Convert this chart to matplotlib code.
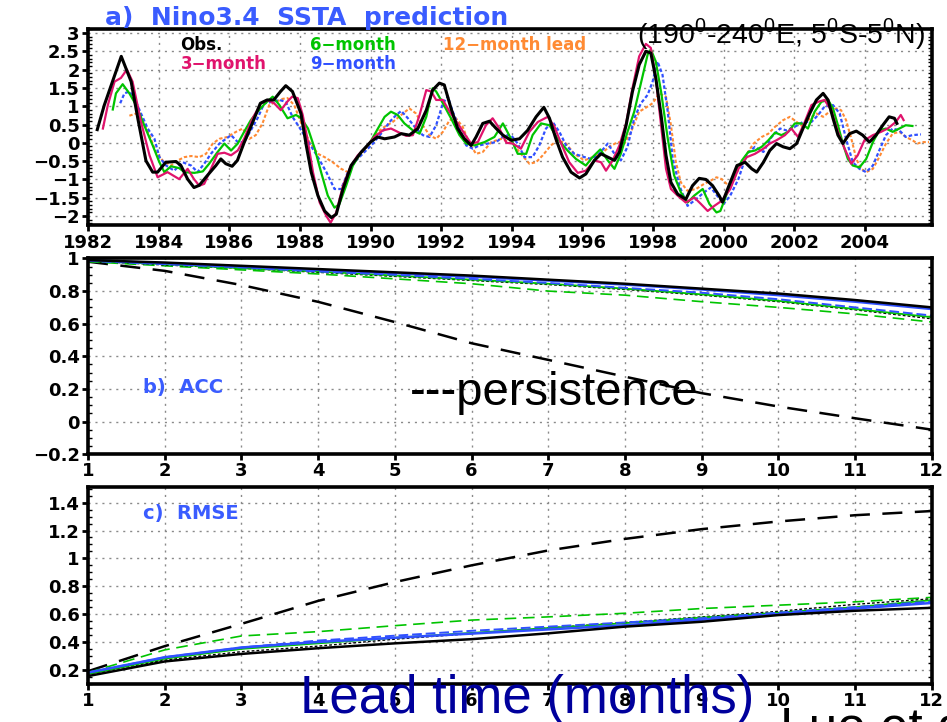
"""Nino3.4 SSTA hindcasts (panel a) and lead-time skill, ACC (b) and RMSE (c)."""
import matplotlib
matplotlib.use("Agg")
import matplotlib.pyplot as plt
from matplotlib.ticker import MultipleLocator, FuncFormatter

W, H = 947, 722

# ---- a) Nino3.4 SSTA ----
obs_t = [1982.26, 1982.46, 1982.94, 1983.22, 1983.41, 1983.64, 1983.83, 1983.97, 1984.2,
         1984.49, 1984.63, 1984.82, 1985.0, 1985.15, 1985.38, 1985.62, 1985.76, 1985.9,
         1986.08, 1986.23, 1986.41, 1986.65, 1986.88, 1987.07, 1987.26, 1987.45, 1987.6,
         1987.79, 1988.03, 1988.18, 1988.32, 1988.51, 1988.7, 1988.89, 1989.03, 1989.22,
         1989.45, 1989.74, 1990.0, 1990.2, 1990.4, 1990.68, 1990.87, 1991.1, 1991.34,
         1991.58, 1991.76, 1991.95, 1992.09, 1992.28, 1992.47, 1992.66, 1992.85, 1992.99,
         1993.18, 1993.37, 1993.56, 1993.75, 1993.98, 1994.22, 1994.45, 1994.69, 1994.91,
         1995.07, 1995.25, 1995.44, 1995.68, 1995.92, 1996.1, 1996.34, 1996.53, 1996.72,
         1996.91, 1997.05, 1997.24, 1997.42, 1997.61, 1997.8, 1997.94, 1998.08, 1998.23,
         1998.37, 1998.51, 1998.7, 1998.93, 1999.12, 1999.31, 1999.5, 1999.69, 1999.88,
         1999.97, 2000.19, 2000.38, 2000.61, 2000.8, 2000.94, 2001.13, 2001.31, 2001.5,
         2001.69, 2001.88, 2002.07, 2002.25, 2002.44, 2002.63, 2002.82, 2002.96, 2003.1,
         2003.24, 2003.38, 2003.57, 2003.76, 2003.94, 2004.13, 2004.32, 2004.51, 2004.69,
         2004.84, 2004.91]
obs_v = [0.36, 1.03, 2.36, 1.67, 0.66, -0.49, -0.80, -0.80, -0.53,
         -0.51, -0.62, -0.99, -1.22, -1.16, -0.89, -0.62, -0.44, -0.57,
         -0.64, -0.48, -0.02, 0.53, 1.08, 1.17, 1.17, 1.40, 1.56,
         1.40, 0.80, -0.07, -0.80, -1.44, -1.86, -2.04, -1.95, -1.26,
         -0.62, -0.25, 0.02, 0.16, 0.11, 0.16, 0.25, 0.21, 0.39,
         0.89, 1.44, 1.63, 1.58, 0.94, 0.39, 0.11, -0.07, 0.16,
         0.53, 0.59, 0.39, 0.21, 0.07, 0.11, 0.34, 0.71, 0.97,
         0.67, 0.11, -0.39, -0.80, -0.96, -0.85, -0.48, -0.30, -0.39,
         -0.48, -0.25, 0.48, 1.40, 2.13, 2.50, 2.45, 1.77, 0.76,
         -0.34, -1.08, -1.40, -1.54, -1.17, -0.97, -1.00, -1.17, -1.45,
         -1.62, -1.08, -0.62, -0.53, -0.71, -0.80, -0.53, -0.21, -0.02,
         -0.11, -0.16, -0.02, 0.39, 0.80, 1.17, 1.35, 1.17, 0.67,
         0.21, -0.02, 0.25, 0.32, 0.21, 0.02, 0.21, 0.48, 0.71,
         0.67, 0.53]

m3_t = [1982.42, 1982.56, 1982.75, 1982.93, 1983.1, 1983.26, 1983.5, 1983.74, 1983.97,
        1984.25, 1984.58, 1984.82, 1985.0, 1985.15, 1985.29, 1985.48, 1985.67, 1985.86,
        1986.05, 1986.24, 1986.42, 1986.66, 1986.9, 1987.08, 1987.27, 1987.46, 1987.64,
        1987.78, 1987.94, 1988.08, 1988.23, 1988.37, 1988.56, 1988.75, 1988.87, 1989.03,
        1989.22, 1989.45, 1989.64, 1989.88, 1990.11, 1990.35, 1990.58, 1990.77, 1991.01,
        1991.2, 1991.39, 1991.58, 1991.72, 1991.86, 1992.05, 1992.24, 1992.47, 1992.66,
        1992.85, 1993.04, 1993.27, 1993.46, 1993.65, 1993.85, 1994.03, 1994.26, 1994.5,
        1994.74, 1995.02, 1995.21, 1995.4, 1995.63, 1995.87, 1996.1, 1996.34, 1996.53,
        1996.67, 1996.86, 1997.05, 1997.24, 1997.42, 1997.61, 1997.8, 1997.94, 1998.08,
        1998.23, 1998.37, 1998.51, 1998.7, 1998.93, 1999.17, 1999.36, 1999.55, 1999.74,
        1999.95, 2000.19, 2000.42, 2000.66, 2000.89, 2001.13, 2001.31, 2001.5, 2001.74,
        2001.92, 2002.11, 2002.3, 2002.49, 2002.68, 2002.86, 2003.05, 2003.24, 2003.43,
        2003.62, 2003.8, 2003.99, 2004.23, 2004.46, 2004.65, 2004.88, 2005.02, 2005.1]
m3_v = [0.39, 1.03, 1.67, 1.77, 2.00, 1.67, 0.57, -0.34, -0.94,
        -0.80, -0.99, -0.71, -0.99, -1.17, -1.12, -0.71, -0.30, -0.27,
        -0.34, -0.21, 0.11, 0.67, 1.08, 1.17, 1.08, 0.89, 1.12,
        1.26, 1.22, 0.76, 0.02, -0.80, -1.63, -2.00, -2.18, -1.90,
        -1.17, -0.62, -0.34, -0.11, 0.16, 0.34, 0.39, 0.30, 0.19,
        0.21, 0.76, 1.44, 1.40, 1.17, 1.17, 0.85, 0.53, 0.25,
        -0.02, 0.02, 0.48, 0.67, 0.39, 0.00, -0.02, -0.16, 0.30,
        0.57, 0.71, 0.44, -0.02, -0.53, -0.82, -0.76, -0.48, -0.53,
        -0.76, -0.48, -0.07, 0.53, 1.49, 2.36, 2.70, 2.59, 1.77,
        0.48, -0.71, -1.26, -1.44, -1.63, -1.49, -1.67, -1.86, -1.72,
        -1.58, -1.26, -0.71, -0.39, -0.30, -0.16, -0.02, 0.07, 0.21,
        0.39, 0.16, 0.57, 1.03, 1.12, 1.17, 0.89, 0.30, -0.16,
        -0.57, -0.34, 0.07, 0.21, 0.30, 0.39, 0.57, 0.76, 0.62]

m6_t = [1982.70, 1982.79, 1982.98, 1983.17, 1983.36, 1983.59, 1983.83, 1984.02, 1984.16,
        1984.35, 1984.58, 1984.73, 1985.01, 1985.25, 1985.43, 1985.67, 1985.86, 1986.05,
        1986.24, 1986.42, 1986.61, 1986.8, 1986.99, 1987.23, 1987.42, 1987.65, 1987.89,
        1988.04, 1988.23, 1988.42, 1988.6, 1988.79, 1988.98, 1989.12, 1989.31, 1989.5,
        1989.74, 1989.97, 1990.21, 1990.4, 1990.58, 1990.77, 1990.96, 1991.2, 1991.39,
        1991.58, 1991.76, 1991.86, 1992.05, 1992.28, 1992.52, 1992.71, 1992.94, 1993.23,
        1993.51, 1993.75, 1993.98, 1994.17, 1994.41, 1994.59, 1994.83, 1995.07, 1995.3,
        1995.58, 1995.82, 1996.1, 1996.29, 1996.51, 1996.72, 1996.91, 1997.09, 1997.28,
        1997.47, 1997.66, 1997.85, 1997.94, 1998.08, 1998.23, 1998.42, 1998.6, 1998.79,
        1998.98, 1999.17, 1999.41, 1999.6, 1999.8, 1999.91, 2000.09, 2000.28, 2000.52,
        2000.7, 2000.89, 2001.08, 2001.27, 2001.46, 2001.64, 2001.83, 2002.02, 2002.21,
        2002.39, 2002.58, 2002.77, 2002.96, 2003.1, 2003.24, 2003.38, 2003.52, 2003.66,
        2003.85, 2004.04, 2004.23, 2004.41, 2004.6, 2004.79, 2004.98, 2005.16, 2005.35]
m6_v = [0.91, 1.35, 1.60, 1.35, 1.03, 0.48, -0.07, -0.53, -0.80,
        -0.64, -0.69, -0.80, -0.82, -0.78, -0.57, -0.25, -0.02, -0.21,
        -0.02, 0.30, 0.62, 0.85, 1.05, 1.26, 1.03, 0.67, 0.76,
        0.67, 0.39, -0.16, -0.80, -1.44, -1.77, -1.67, -1.17, -0.62,
        -0.25, -0.02, 0.39, 0.71, 0.85, 0.76, 0.53, 0.34, 0.25,
        0.71, 1.49, 1.40, 1.08, 0.67, 0.21, -0.02, -0.07, 0.02,
        0.16, 0.53, 0.11, -0.30, -0.30, 0.21, 0.53, 0.48, 0.11,
        -0.21, -0.44, -0.62, -0.39, -0.18, -0.48, -0.71, -0.30, 0.30,
        0.85, 1.63, 2.41, 2.55, 2.22, 1.40, 0.11, -0.89, -1.35,
        -1.63, -1.44, -1.26, -1.67, -1.90, -1.86, -1.40, -0.94, -0.48,
        -0.25, -0.21, -0.11, 0.07, 0.28, 0.21, 0.30, 0.53, 0.53,
        0.39, 0.85, 1.12, 1.17, 0.94, 0.48, -0.02, -0.44, -0.62,
        -0.67, -0.44, 0.02, 0.34, 0.39, 0.30, 0.39, 0.48, 0.46]

m9_t = [1982.91, 1983.03, 1983.17, 1983.31, 1983.5, 1983.69, 1983.88, 1984.02, 1984.21,
        1984.44, 1984.68, 1984.92, 1985.1, 1985.29, 1985.48, 1985.72, 1985.91, 1986.05,
        1986.24, 1986.42, 1986.61, 1986.8, 1986.99, 1987.23, 1987.42, 1987.6, 1987.79,
        1988.04, 1988.27, 1988.51, 1988.75, 1988.98, 1989.17, 1989.36, 1989.59, 1989.83,
        1990.07, 1990.3, 1990.54, 1990.73, 1990.87, 1991.06, 1991.29, 1991.48, 1991.67,
        1991.86, 1992.05, 1992.19, 1992.33, 1992.52, 1992.71, 1992.9, 1993.08, 1993.32,
        1993.56, 1993.79, 1993.98, 1994.17, 1994.36, 1994.59, 1994.78, 1994.97, 1995.16,
        1995.35, 1995.54, 1995.77, 1996.06, 1996.25, 1996.48, 1996.72, 1996.91, 1997.09,
        1997.28, 1997.47, 1997.66, 1997.85, 1997.99, 1998.13, 1998.27, 1998.42, 1998.56,
        1998.75, 1998.98, 1999.22, 1999.45, 1999.64, 1999.8, 2000.0, 2000.19, 2000.42,
        2000.66, 2000.89, 2001.13, 2001.36, 2001.6, 2001.78, 2002.02, 2002.25, 2002.49,
        2002.68, 2002.86, 2003.1, 2003.29, 2003.47, 2003.66, 2003.85, 2004.04, 2004.23,
        2004.41, 2004.6, 2004.79, 2004.98, 2005.16, 2005.35, 2005.59]
m9_v = [1.08, 1.35, 1.40, 1.22, 0.80, 0.39, 0.11, -0.39, -0.62,
        -0.76, -0.53, -0.62, -0.80, -0.57, -0.30, -0.02, 0.11, 0.21,
        0.02, 0.02, 0.34, 0.67, 1.08, 1.12, 1.17, 1.12, 0.71,
        0.34, -0.02, -0.39, -0.80, -1.26, -1.26, -0.80, -0.48, -0.25,
        -0.02, 0.25, 0.57, 0.76, 0.87, 0.67, 0.39, 0.21, 0.16,
        0.48, 1.08, 1.26, 0.85, 0.39, -0.07, -0.16, -0.07, -0.02,
        0.02, 0.20, 0.21, -0.02, -0.39, -0.39, -0.07, 0.39, 0.57,
        0.30, -0.07, -0.30, -0.39, -0.44, -0.30, -0.02, -0.30, -0.48,
        -0.11, 0.67, 1.08, 1.31, 1.67, 2.22, 1.86, 0.85, -0.44,
        -1.17, -1.72, -1.54, -1.35, -1.22, -1.42, -1.67, -1.44, -0.99,
        -0.30, -0.11, -0.25, 0.16, 0.39, 0.34, 0.44, 0.57, 0.57,
        0.76, 0.99, 1.03, 0.80, 0.11, -0.53, -0.71, -0.80, -0.62,
        -0.21, 0.21, 0.39, 0.34, 0.16, 0.21, 0.23]

m12_t = [1983.17, 1983.36, 1983.55, 1983.74, 1983.92, 1984.11, 1984.35, 1984.54, 1984.73,
         1984.92, 1985.15, 1985.34, 1985.53, 1985.72, 1985.95, 1986.19, 1986.38, 1986.57,
         1986.75, 1986.94, 1987.13, 1987.32, 1987.51, 1987.65, 1987.84, 1988.04, 1988.27,
         1988.51, 1988.7, 1988.93, 1989.17, 1989.36, 1989.55, 1989.78, 1989.97, 1990.21,
         1990.4, 1990.63, 1990.87, 1991.1, 1991.29, 1991.48, 1991.67, 1991.86, 1992.05,
         1992.24, 1992.42, 1992.61, 1992.8, 1992.99, 1993.18, 1993.42, 1993.7, 1994.03,
         1994.26, 1994.5, 1994.69, 1994.88, 1995.11, 1995.3, 1995.54, 1995.77, 1996.06,
         1996.29, 1996.53, 1996.76, 1997.0, 1997.19, 1997.38, 1997.61, 1997.8, 1997.99,
         1998.18, 1998.37, 1998.51, 1998.65, 1998.79, 1998.98, 1999.22, 1999.45, 1999.64,
         1999.8, 1999.95, 2000.14, 2000.28, 2000.47, 2000.66, 2000.85, 2001.08, 2001.27,
         2001.46, 2001.69, 2001.88, 2002.07, 2002.25, 2002.44, 2002.63, 2002.82, 2003.0,
         2003.19, 2003.33, 2003.47, 2003.62, 2003.76, 2003.9, 2004.04, 2004.23, 2004.41,
         2004.6, 2004.79, 2004.98, 2005.16, 2005.35, 2005.49, 2005.63, 2005.82]
m12_v = [0.74, 0.80, 0.57, 0.21, -0.25, -0.48, -0.62, -0.48, -0.39,
         -0.36, -0.39, -0.30, -0.02, 0.11, 0.16, 0.30, 0.39, 0.11,
         0.21, 0.53, 1.03, 1.12, 1.20, 1.22, 1.03, 0.53, 0.02,
         -0.30, -0.39, -0.53, -0.71, -0.80, -0.53, -0.25, -0.02, 0.30,
         0.44, 0.57, 0.76, 0.94, 0.80, 0.48, 0.21, 0.11, 0.30,
         0.62, 0.67, 0.44, -0.02, -0.30, -0.25, 0.02, 0.11, -0.02,
         -0.30, -0.57, -0.53, -0.34, -0.07, 0.07, -0.02, -0.30, -0.48,
         -0.39, -0.30, -0.11, 0.02, -0.02, 0.30, 0.85, 0.96, 1.08,
         1.35, 1.26, 0.48, -0.53, -1.08, -1.31, -1.26, -1.12, -1.03,
         -0.94, -0.99, -1.17, -1.03, -0.62, -0.30, -0.02, 0.16, 0.25,
         0.44, 0.62, 0.71, 0.57, 0.44, 0.67, 0.80, 0.71, 0.85,
         0.94, 0.89, 0.62, 0.11, -0.44, -0.71, -0.80, -0.71, -0.39,
         -0.02, 0.25, 0.30, 0.16, 0.07, -0.02, 0.02, 0.02]

# ---- b) ACC and c) RMSE vs lead time ----
lead = list(range(1, 13))
acc_persist = [0.98, 0.924, 0.837, 0.734, 0.61, 0.48, 0.378, 0.275, 0.174, 0.092, 0.02, -0.05]
acc_k_solid = [0.99, 0.975, 0.955, 0.935, 0.915, 0.895, 0.87, 0.845, 0.815, 0.785, 0.745, 0.70]
acc_b_solid = [0.99, 0.97, 0.95, 0.93, 0.91, 0.888, 0.865, 0.84, 0.81, 0.775, 0.735, 0.69]
acc_b_dash = [0.985, 0.965, 0.945, 0.92, 0.90, 0.875, 0.85, 0.82, 0.79, 0.75, 0.70, 0.65]
acc_g_solid = [0.985, 0.965, 0.94, 0.92, 0.895, 0.87, 0.845, 0.815, 0.78, 0.74, 0.69, 0.64]
acc_k_dash = [0.985, 0.96, 0.94, 0.915, 0.89, 0.865, 0.84, 0.81, 0.775, 0.735, 0.685, 0.63]
acc_g_dash = [0.98, 0.955, 0.93, 0.905, 0.875, 0.845, 0.80, 0.775, 0.735, 0.70, 0.66, 0.61]

rmse_persist = [0.19, 0.37, 0.53, 0.695, 0.83, 0.95, 1.057, 1.14, 1.21, 1.265, 1.31, 1.34]
rmse_k_solid = [0.155, 0.26, 0.314, 0.355, 0.39, 0.42, 0.462, 0.51, 0.545, 0.593, 0.624, 0.645]
rmse_b_solid = [0.18, 0.29, 0.36, 0.40, 0.43, 0.46, 0.49, 0.52, 0.56, 0.60, 0.64, 0.68]
rmse_b_dash = [0.18, 0.29, 0.36, 0.41, 0.445, 0.48, 0.51, 0.54, 0.57, 0.61, 0.65, 0.69]
rmse_g_solid = [0.17, 0.28, 0.35, 0.39, 0.43, 0.465, 0.50, 0.535, 0.575, 0.61, 0.65, 0.70]
rmse_k_dash = [0.17, 0.27, 0.33, 0.37, 0.42, 0.46, 0.50, 0.54, 0.58, 0.62, 0.67, 0.71]
rmse_g_dash = [0.18, 0.343, 0.443, 0.474, 0.517, 0.557, 0.58, 0.606, 0.64, 0.664, 0.688, 0.72]

C_OBS, C3, C6, C9, C12 = "black", "#e0136c", "#00c400", "#3050ff", "#ff8a33"
C_TITLE = "#3a5cff"
BOLD = dict(family="DejaVu Sans", fontweight="bold")


def fx(px):
    return px / W


def fy(py):
    return 1 - py / H


def num(v, _):
    return f"{v:g}".replace("-", "\u2212")


def style(ax, xmaj, ymaj, ymin):
    for s in ax.spines.values():
        s.set_linewidth(2.6)
    ax.xaxis.set_major_locator(MultipleLocator(xmaj))
    ax.yaxis.set_major_locator(MultipleLocator(ymaj))
    ax.yaxis.set_minor_locator(MultipleLocator(ymin))
    ax.yaxis.set_major_formatter(FuncFormatter(num))
    ax.xaxis.set_major_formatter(FuncFormatter(num))
    ax.grid(True, which="major", color="#8a8a8a", linestyle=(0, (1.5, 3.5)), linewidth=1.0)
    ax.tick_params(which="major", direction="out", length=4, width=2, pad=2,
                   labelsize=13)
    ax.tick_params(which="minor", direction="in", length=3, width=1, left=True, right=True)
    for lab in ax.get_xticklabels() + ax.get_yticklabels():
        lab.set_fontweight("bold")


def main():
    plt.rcParams["mathtext.fontset"] = "custom"
    plt.rcParams["mathtext.rm"] = "Liberation Sans"
    fig = plt.figure(figsize=(W / 100, H / 100), dpi=100)

    # a) time series
    ax = fig.add_axes([0.093, 0.688, 0.891, 0.272])
    dot = (0, (1.6, 1.0))
    ax.plot(m12_t, m12_v, color=C12, lw=1.5, linestyle=dot)
    ax.plot(m9_t, m9_v, color=C9, lw=1.6, linestyle=dot)
    ax.plot(m6_t, m6_v, color=C6, lw=1.6)
    ax.plot(m3_t, m3_v, color=C3, lw=1.6)
    ax.plot(obs_t, obs_v, color=C_OBS, lw=2.2)
    ax.set_xlim(1982, 2005.9)
    ax.set_ylim(-2.25, 3.11)
    style(ax, 2, 0.5, 0.1)

    # b) ACC
    bx = fig.add_axes([0.093, 0.371, 0.891, 0.271])
    bx.plot(lead, acc_persist, color="black", lw=1.8, dashes=(8, 5))
    bx.plot(lead, acc_g_dash, color=C6, lw=1.2, dashes=(7, 4))
    bx.plot(lead, acc_k_dash, color="black", lw=1.0, dashes=(2, 1.5))
    bx.plot(lead, acc_g_solid, color=C6, lw=1.3)
    bx.plot(lead, acc_b_dash, color=C9, lw=1.4, dashes=(5, 2))
    bx.plot(lead, acc_b_solid, color=C9, lw=1.8)
    bx.plot(lead, acc_k_solid, color="black", lw=1.8)
    bx.set_xlim(1, 12)
    bx.set_ylim(-0.2, 1.0)
    style(bx, 1, 0.2, 0.05)

    # c) RMSE
    cx = fig.add_axes([0.093, 0.053, 0.891, 0.272])
    cx.plot(lead, rmse_persist, color="black", lw=1.8, dashes=(8, 5))
    cx.plot(lead, rmse_g_dash, color=C6, lw=1.2, dashes=(7, 4))
    cx.plot(lead, rmse_k_dash, color="black", lw=1.0, dashes=(2, 1.5))
    cx.plot(lead, rmse_g_solid, color=C6, lw=1.3)
    cx.plot(lead, rmse_b_dash, color=C9, lw=1.4, dashes=(5, 2))
    cx.plot(lead, rmse_b_solid, color=C9, lw=1.8)
    cx.plot(lead, rmse_k_solid, color="black", lw=1.8)
    cx.set_xlim(1, 12)
    cx.set_ylim(0.1, 1.51)
    style(cx, 1, 0.2, 0.05)

    # labels
    fig.text(fx(105), fy(25), "a)  Nino3.4  SSTA  prediction", color=C_TITLE,
             fontsize=18, va="baseline", **BOLD)
    fig.text(fx(637), fy(43), r"(190$^\mathrm{0}$-240$^\mathrm{0}$E, 5$^\mathrm{0}$S-5$^\mathrm{0}$N)",
             family="Liberation Sans", fontsize=20.5, va="baseline", color="black")
    for x, y, s, c in [(180, 50, "Obs.", C_OBS), (181, 69, "3\u2212month", C3),
                       (310, 50, "6\u2212month", C6), (310, 69, "9\u2212month", C9),
                       (443, 50, "12\u2212month lead", C12)]:
        fig.text(fx(x), fy(y), s, color=c, fontsize=12, va="baseline", **BOLD)
    fig.text(fx(143), fy(393), "b)  ACC", color=C_TITLE, fontsize=14, va="baseline", **BOLD)
    fig.text(fx(143), fy(519), "c)  RMSE", color=C_TITLE, fontsize=14, va="baseline", **BOLD)
    fig.text(fx(410), fy(405), "---persistence", family="Liberation Sans", fontsize=34,
             va="baseline", color="black")
    fig.text(fx(300), fy(713), "Lead time (months)", family="Liberation Sans", fontsize=38,
             va="baseline", color="#00009c")
    fig.text(fx(780), fy(744), "Luo et al.", family="Liberation Sans", fontsize=37,
             va="baseline", color="black")

    fig.savefig("out.png", dpi=100)


if __name__ == "__main__":
    main()
